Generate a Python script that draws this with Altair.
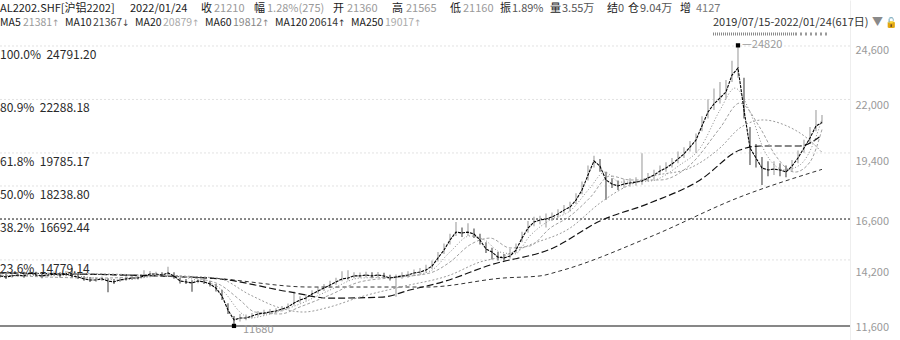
import altair as alt
import pandas as pd

# ---------------- data ----------------
# one sample every ~4.5 trading days, 2019/07/15 .. 2022/01/24
close = [14030, 13980, 14030, 14070, 14030, 14170, 14070, 14030, 14070, 14120,
         14070, 14120, 14030, 13980, 13890, 13840, 13840, 13890, 13790, 13750,
         13840, 13890, 13930, 13930, 14030, 14120, 14120, 14070, 14170, 14030,
         13790, 13750, 13700, 13790, 13750, 13650, 13460, 13090, 12430, 11970,
         12060, 12060, 12150, 12250, 12290, 12340, 12390, 12480, 12580, 12760,
         12900, 13000, 13180, 13320, 13460, 13600, 13750, 13890, 13930, 14030,
         14030, 14070, 14030, 14070, 14030, 13930, 13980, 14030, 14070, 14170,
         14210, 14310, 14490, 14870, 15240, 15710, 16080, 16040, 16080, 15990,
         15710, 15290, 15150, 14910, 14870, 14960, 15240, 15800, 16270, 16550,
         16650, 16690, 16790, 16930, 17110, 17250, 17580, 18050, 18750, 19410,
         19170, 18520, 18330, 18240, 18330, 18380, 18420, 18470, 18610, 18750,
         18940, 19080, 19270, 19500, 19740, 20060, 20390, 21050, 21700, 22080,
         22360, 22640, 23430, 23760, 21800, 20020, 19550, 19080, 18990, 19030,
         18990, 18890, 19170, 19550, 20020, 20480, 21050, 21210]
high = [14170, 14120, 14160, 14210, 14220, 14310, 14220, 14150, 14190, 14240,
        14200, 14260, 14400, 14200, 14020, 13980, 13960, 14000, 13920, 13880,
        13960, 14010, 14060, 14100, 14300, 14260, 14230, 14200, 14460, 14200,
        13950, 13880, 13830, 13900, 13870, 13790, 13650, 13380, 12750, 12150,
        12250, 12230, 12300, 12390, 12450, 12480, 12520, 12620, 12740, 13300,
        13080, 13180, 13360, 13500, 13650, 13800, 13950, 14250, 14300, 14200,
        14190, 14230, 14200, 14210, 14180, 14080, 14100, 14200, 14250, 14330,
        14400, 14550, 14750, 15150, 15550, 16000, 16550, 16300, 16500, 16250,
        16000, 15600, 15350, 15150, 15050, 15300, 15550, 16100, 16600, 16800,
        16850, 16950, 17000, 17150, 17350, 17500, 17900, 18450, 19200, 19650,
        19500, 18900, 18600, 18500, 18550, 18600, 18650, 19770, 18850, 19000,
        19200, 19350, 19550, 19850, 20050, 20350, 20700, 21500, 22300, 22800,
        23100, 23200, 24100, 24820, 23300, 21000, 20200, 19600, 19400, 19400,
        19300, 19200, 19450, 19900, 20400, 21000, 21800, 21565]
low = [13930, 13880, 13940, 13980, 13950, 14050, 13980, 13920, 13980, 14020,
       13960, 14010, 13950, 13880, 13800, 13740, 13750, 13790, 13260, 13650,
       13740, 13800, 13840, 13850, 13940, 14020, 14030, 13980, 14060, 13900,
       13680, 13650, 13290, 13690, 13650, 13540, 13300, 12900, 12250, 11690,
       11900, 11950, 12050, 12130, 12180, 12240, 12290, 12370, 12470, 12650,
       12780, 12880, 13060, 13200, 13330, 13480, 13620, 13780, 13820, 13920,
       13930, 13960, 13920, 13950, 13920, 13820, 13050, 13900, 13950, 14040,
       14100, 14180, 14350, 14700, 15050, 15500, 15900, 15850, 15900, 15800,
       15500, 15100, 14800, 14750, 14750, 14850, 15100, 15600, 16050, 16350,
       16450, 16300, 16600, 16750, 16950, 17050, 17400, 17850, 18500, 19100,
       18900, 17600, 18150, 18050, 18150, 18200, 18250, 18300, 18450, 18550,
       18750, 18900, 19100, 19300, 19550, 19850, 19800, 20800, 21400, 21800,
       22100, 22300, 23100, 23300, 21400, 19220, 19100, 18290, 18700, 18750,
       18700, 18650, 18900, 19300, 19800, 20200, 20800, 21160]

ma10_t = [0, 10, 20, 28.3, 33.3, 35.8, 37.5, 40, 41.7, 45, 50, 55, 60, 66.7, 71.7, 75,
          78.3, 80.8, 83.3, 85.8, 88.3, 91.7, 95, 98.3, 100.8, 103.3, 108.3, 113.3,
          116.7, 120, 122.5, 125, 127.5, 130.8, 133.3, 135.8, 137]
ma10_v = [14030, 14070, 13840, 14070, 13790, 13610, 13230, 12340, 12060, 12250, 12720,
          13370, 13930, 13980, 14260, 15150, 15900, 15710, 15150, 15060, 15900, 16650,
          17070, 18140, 18890, 18420, 18470, 19220, 20020, 21790, 22820, 21700, 19830,
          18990, 19220, 20390, 21367]
ma20_t = [0, 16.7, 28.3, 33.3, 36.7, 40, 42.5, 46.7, 50, 55, 60, 66.7, 71.7, 75, 78.3,
          81.7, 85, 88.3, 91.7, 95, 98.3, 101.7, 105, 110, 115, 120, 123.3, 126.7, 129.2,
          132.5, 135, 137]
ma20_v = [14070, 13930, 14030, 13890, 13610, 12900, 12340, 12250, 12580, 13140, 13750,
          13980, 14170, 14680, 15480, 15800, 15340, 15430, 16270, 16830, 17680, 18710,
          18520, 18520, 19220, 20950, 22120, 20950, 19690, 18890, 19360, 20879]
ma60_t = [0, 25, 36.2, 41.7, 46.7, 50.5, 55, 60, 66.7, 75, 80, 83.3, 88.3, 95, 100, 103.3,
          108.3, 115, 120, 123.3, 127.2, 130.8, 134.5, 137]
ma60_v = [14170, 14070, 13930, 13140, 12530, 12340, 12580, 13040, 13510, 14070, 14680,
          14910, 15480, 16270, 17440, 18050, 18660, 19080, 20020, 20950, 21330, 21090,
          20480, 19812]
ma120_t = [0, 35, 48.3, 55, 63.8, 68.3, 73.8, 81.7, 92.2, 100, 108.3, 116.7, 123.3, 126.7,
           133.3, 137]
ma120_v = [14170, 13930, 13280, 12990, 13040, 13370, 13750, 14540, 15340, 16600, 17440,
           18520, 19920, 20110, 20110, 20614]
ma250_t = [0, 35, 51.7, 71.2, 83.8, 90, 93.3, 108.3, 123.3, 137]
ma250_v = [14170, 13930, 13510, 13510, 13930, 14030, 14260, 15850, 17720, 19017]

fib_pct = ["100.0%", "80.9%", "61.8%", "50.0%", "38.2%", "23.6%", "0.0%"]
fib_val = [24791.20, 22288.18, 19785.17, 18238.80, 16692.44, 14779.14, 11686.40]
y_ticks = [11600, 14200, 16600, 19400, 22000, 24600]

ma_names = ["MA5", "MA10", "MA20", "MA60", "MA120", "MA250"]
ma_last = ["21381", "21367", "20879", "19812", "20614", "19017"]
ma_arrow = ["↑", "↓", "↑", "↑", "↑", "↑"]

peak_t, peak_v, peak_label = 123, 24820, "24820"
low_t, low_v, low_label = 39, 11690, "11680"

FONT = "Noto Sans CJK SC"

# ---------------- tables ----------------
cd = pd.DataFrame({"t": range(len(close)), "close": close, "high": high, "low": low})
cd["dir"] = ["up" if i == 0 or c >= close[i - 1] else "down" for i, c in enumerate(close)]

fib = pd.DataFrame({"pct": fib_pct, "value": fib_val})
fib["label"] = [f"{p}\u00a0\u00a0{v:.2f}" for p, v in zip(fib_pct, fib_val)]

xs = alt.Scale(domain=[0, 141.67], nice=False, zero=False)
ys = alt.Scale(domain=[11031, 26943], nice=False, zero=False)
yax = alt.Axis(values=y_ticks, orient="right", title=None, ticks=False, grid=False,
               labelColor="#9a9a9a", labelFontSize=11, labelFont=FONT, labelPadding=5,
               domainColor="#eeeeee", labelAlign="left")


def X(f="t"):
    return alt.X(f"{f}:Q", scale=xs, axis=None)


def Y(f):
    return alt.Y(f"{f}:Q", scale=ys, axis=yax)


faint = alt.Chart(fib[~fib.pct.isin(["38.2%", "0.0%"])]).mark_rule(
    color="#e2e2e2", strokeDash=[2, 2], strokeWidth=1).encode(y=Y("value"))
dotted = alt.Chart(fib[fib.pct == "38.2%"]).mark_rule(
    color="#111", strokeDash=[2, 2], strokeWidth=1).encode(y=Y("value"))
solid = alt.Chart(fib[fib.pct == "0.0%"]).mark_rule(
    color="#111", strokeWidth=1.2).encode(y=Y("value"))
fib_txt = alt.Chart(fib[fib.pct != "0.0%"]).mark_text(
    align="left", baseline="middle", dy=9, font=FONT, fontSize=12, color="#2a2a2a").encode(
    x=alt.value(0), y=Y("value"), text="label:N")

candles = alt.Chart(cd).mark_rule(strokeWidth=1.4).encode(
    x=X(), y=Y("low"), y2="high:Q",
    color=alt.Color("dir:N", scale=alt.Scale(domain=["up", "down"], range=["#b4b4b4", "#6e6e6e"]),
                    legend=None))


def ma_line(t, v, color, dash, width=1.0, interp="monotone"):
    df = pd.DataFrame({"t": t, "v": v})
    return alt.Chart(df).mark_line(color=color, strokeDash=dash, strokeWidth=width,
                                   interpolate=interp).encode(x=X(), y=Y("v"))


ma250 = ma_line(ma250_t, ma250_v, "#333", [4, 3], 1.0)
ma120 = ma_line(ma120_t, ma120_v, "#111", [7, 3], 1.2)
ma60 = ma_line(ma60_t, ma60_v, "#9a9a9a", [2, 2], 1.0)
ma20 = ma_line(ma20_t, ma20_v, "#a0a0a0", [3, 2], 1.0)
ma10 = ma_line(ma10_t, ma10_v, "#8a8a8a", [1, 2], 1.0)
ma5 = alt.Chart(cd).mark_line(color="#000", strokeDash=[3, 1], strokeWidth=1.1).encode(
    x=X(), y=Y("close"))

mk = pd.DataFrame({"t": [peak_t, low_t], "v": [peak_v, low_v],
                   "label": ["—" + peak_label, low_label]})
markers = alt.Chart(mk).mark_square(size=18, color="#000", opacity=1).encode(x=X(), y=Y("v"))
mk_txt_hi = alt.Chart(mk.iloc[[0]]).mark_text(align="left", baseline="middle", dx=4,
                                              font=FONT, fontSize=11, color="#9a9a9a").encode(
    x=X(), y=Y("v"), text="label:N")
mk_txt_lo = alt.Chart(mk.iloc[[1]]).mark_text(align="left", baseline="middle", dx=9, dy=4,
                                              font=FONT, fontSize=11, color="#9a9a9a").encode(
    x=X(), y=Y("v"), text="label:N")

# ---------------- header texts ----------------
L1, L2 = 9, 23
hdr = [
    (0, L1, "AL2202.SHF[沪铝2202]", "#1a1a1a"), (130, L1, "2022/01/24", "#1a1a1a"),
    (201, L1, "收", "#1a1a1a"), (214, L1, "21210", "#9a9a9a"),
    (254, L1, "幅", "#1a1a1a"), (267, L1, "1.28%(275)", "#9a9a9a"),
    (333, L1, "开", "#1a1a1a"), (347, L1, "21360", "#9a9a9a"),
    (392, L1, "高", "#1a1a1a"), (406, L1, "21565", "#9a9a9a"),
    (450, L1, "低", "#1a1a1a"), (463, L1, "21160", "#9a9a9a"),
    (500, L1, "振", "#1a1a1a"), (512, L1, "1.89%", "#555"),
    (550, L1, "量", "#1a1a1a"), (562, L1, "3.55万", "#555"),
    (607, L1, "结", "#1a1a1a"), (618, L1, "0", "#555"),
    (628, L1, "仓", "#1a1a1a"), (640, L1, "9.04万", "#555"),
    (680, L1, "增", "#1a1a1a"), (696, L1, "4127", "#777"),
    (713, L2, "2019/07/15-2022/01/24(617日)", "#333"), (872, L2, "▼", "#8a8a8a"),
]
# second header row: MA name, last value, trend arrow
name_x = [0, 65, 135, 205, 275, 351]
val_x = [23, 93, 163, 233, 309, 385]
arr_x = [52, 122, 192, 262, 338, 414]
val_col = ["#9a9a9a", "#444", "#aaaaaa", "#888", "#333", "#aaaaaa"]
for i in range(len(ma_names)):
    hdr.append((name_x[i], L2, ma_names[i], "#1a1a1a"))
    hdr.append((val_x[i], L2, ma_last[i], val_col[i]))

hdr_layers = []
for hx, hy, ht, hc in hdr:
    fs = 10.5 if (hy == L2 and hx < 700) else 11
    hdr_layers.append(
        alt.Chart(pd.DataFrame({"s": [ht]})).mark_text(
            align="left", baseline="middle", font=FONT, fontSize=fs, color=hc).encode(
            x=alt.value(hx), y=alt.value(hy), text="s:N"))
for i in range(len(ma_names)):
    hdr_layers.append(
        alt.Chart(pd.DataFrame({"s": [ma_arrow[i]]})).mark_text(
            align="left", baseline="middle", font="DejaVu Sans", fontSize=9,
            color=val_col[i]).encode(
            x=alt.value(arr_x[i]), y=alt.value(L2), text="s:N"))

strip1 = alt.Chart(pd.DataFrame({"a": [0]})).mark_rule(
    color="#8a8a8a", strokeWidth=3, strokeDash=[1, 1]).encode(
    x=alt.value(713), x2=alt.value(795), y=alt.value(34))
strip2 = alt.Chart(pd.DataFrame({"a": [0]})).mark_rule(
    color="#9a9a9a", strokeWidth=3, strokeDash=[2, 3]).encode(
    x=alt.value(795), x2=alt.value(828), y=alt.value(34))
lock = alt.Chart(pd.DataFrame({"s": ["🔓"]})).mark_text(
    align="left", baseline="middle", fontSize=10, color="#555").encode(
    x=alt.value(885), y=alt.value(L2), text="s:N")

chart = alt.layer(
    faint, dotted, solid, candles, ma250, ma120, ma60, ma20, ma10, ma5,
    markers, mk_txt_hi, mk_txt_lo, fib_txt, *hdr_layers, strip1, strip2, lock
).properties(
    width=850, height=340,
    padding={"left": 0, "right": 50, "top": 0, "bottom": 0},
    autosize=alt.AutoSizeParams(type="none"),
    background="white",
).configure_view(strokeWidth=0)

chart.save("out.html", embed_options={"renderer": "svg", "actions": False})
